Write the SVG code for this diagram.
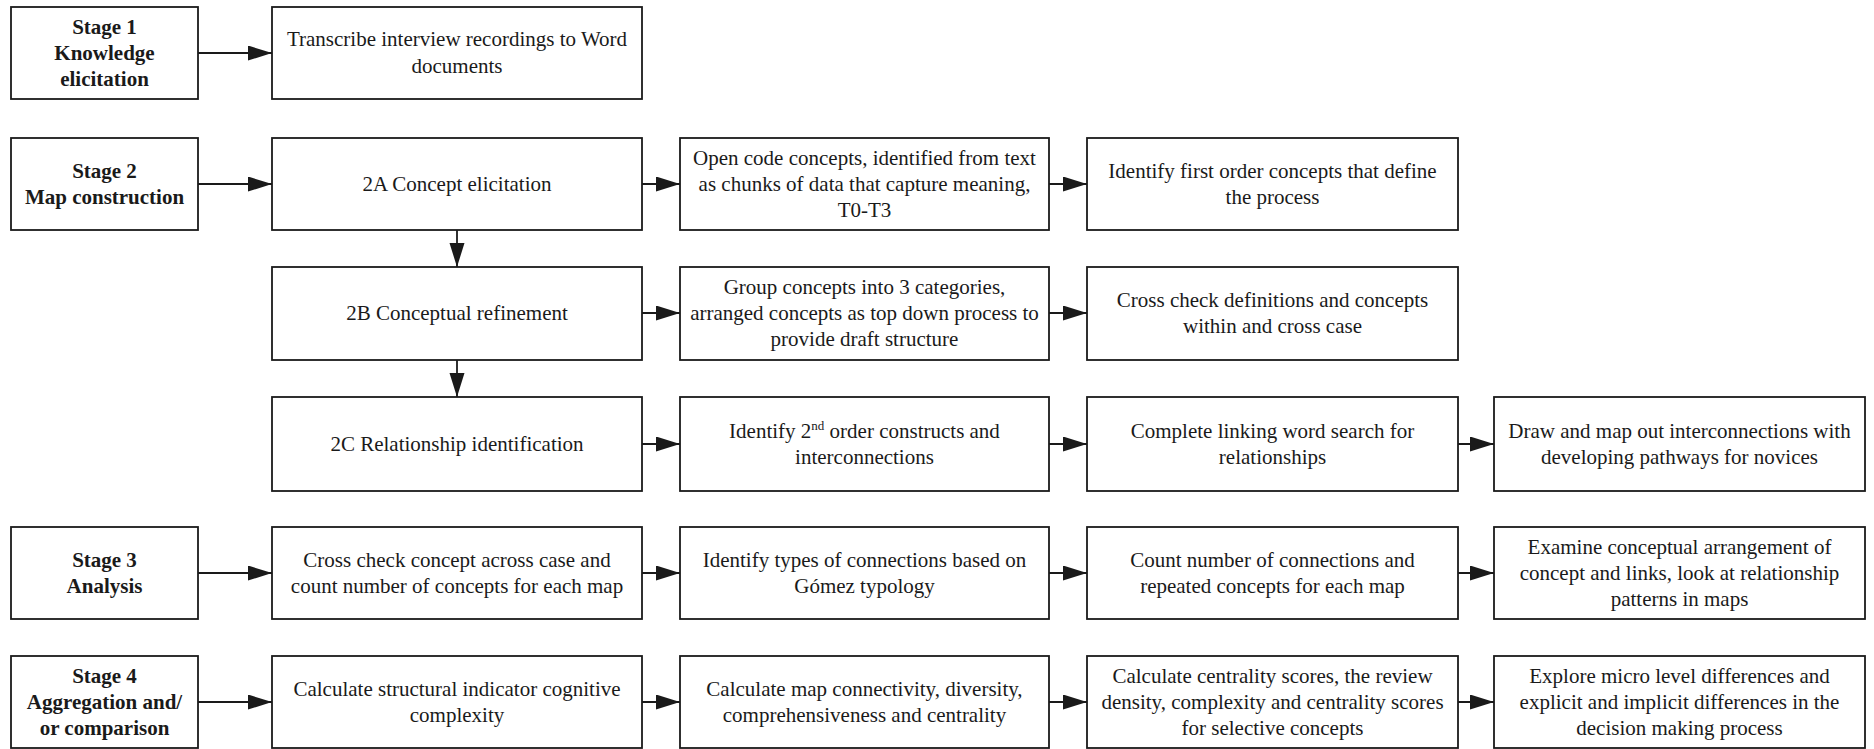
<svg xmlns="http://www.w3.org/2000/svg" width="1874" height="749" viewBox="0 0 1874 749" font-family="'Liberation Serif', 'DejaVu Serif', serif">
  <defs>
    <style>
      .box { fill: #ffffff; stroke: #1a1a1a; stroke-width: 1.8; }
      text { font-family: 'Liberation Serif', 'DejaVu Serif', serif; font-size: 21px; fill: #1a1a1a; text-anchor: middle; }
      .b { font-weight: bold; }
      .sup { font-size: 13px; }
      .link { stroke: #1a1a1a; stroke-width: 1.8; fill: none; marker-end: url(#head); }
    </style>
    <marker id="head" markerUnits="userSpaceOnUse" markerWidth="24" markerHeight="16" refX="24" refY="7.5" orient="auto">
      <path d="M0,0 L24,7.5 L0,15 z" fill="#1a1a1a"/>
    </marker>
  </defs>
  <rect width="1874" height="749" fill="#ffffff"/>

  <!-- Stage 1 -->
  <g id="stage1">
    <rect class="box" x="11" y="7" width="187" height="92"/>
    <text class="b" x="104.5" y="34">Stage 1</text>
    <text class="b" x="104.5" y="60">Knowledge</text>
    <text class="b" x="104.5" y="86">elicitation</text>
  </g>
  <g id="transcribe">
    <rect class="box" x="272" y="7" width="370" height="92"/>
    <text x="457" y="46">Transcribe interview recordings to Word</text>
    <text x="457" y="73">documents</text>
  </g>

  <!-- Stage 2 -->
  <g id="stage2">
    <rect class="box" x="11" y="138" width="187" height="92"/>
    <text class="b" x="104.5" y="178">Stage 2</text>
    <text class="b" x="104.5" y="204">Map construction</text>
  </g>
  <g id="concept-elicitation">
    <rect class="box" x="272" y="138" width="370" height="92"/>
    <text x="457" y="191">2A Concept elicitation</text>
  </g>
  <g id="open-code">
    <rect class="box" x="680" y="138" width="369" height="92"/>
    <text x="864.5" y="165">Open code concepts, identified from text</text>
    <text x="864.5" y="191">as chunks of data that capture meaning,</text>
    <text x="864.5" y="217">T0-T3</text>
  </g>
  <g id="first-order">
    <rect class="box" x="1087" y="138" width="371" height="92"/>
    <text x="1272.5" y="178">Identify first order concepts that define</text>
    <text x="1272.5" y="204">the process</text>
  </g>

  <g id="conceptual-refinement">
    <rect class="box" x="272" y="267" width="370" height="93"/>
    <text x="457" y="320">2B Conceptual refinement</text>
  </g>
  <g id="group-concepts">
    <rect class="box" x="680" y="267" width="369" height="93"/>
    <text x="864.5" y="294">Group concepts into 3 categories,</text>
    <text x="864.5" y="320">arranged concepts as top down process to</text>
    <text x="864.5" y="346">provide draft structure</text>
  </g>
  <g id="cross-check-definitions">
    <rect class="box" x="1087" y="267" width="371" height="93"/>
    <text x="1272.5" y="307">Cross check definitions and concepts</text>
    <text x="1272.5" y="333">within and cross case</text>
  </g>

  <g id="relationship-identification">
    <rect class="box" x="272" y="397" width="370" height="94"/>
    <text x="457" y="451">2C Relationship identification</text>
  </g>
  <g id="second-order">
    <rect class="box" x="680" y="397" width="369" height="94"/>
    <text x="864.5" y="438">Identify 2<tspan class="sup" dy="-8">nd</tspan><tspan dy="8"> order constructs and</tspan></text>
    <text x="864.5" y="464">interconnections</text>
  </g>
  <g id="linking-word">
    <rect class="box" x="1087" y="397" width="371" height="94"/>
    <text x="1272.5" y="438">Complete linking word search for</text>
    <text x="1272.5" y="464">relationships</text>
  </g>
  <g id="draw-map">
    <rect class="box" x="1494" y="397" width="371" height="94"/>
    <text x="1679.5" y="438">Draw and map out interconnections with</text>
    <text x="1679.5" y="464">developing pathways for novices</text>
  </g>

  <!-- Stage 3 -->
  <g id="stage3">
    <rect class="box" x="11" y="527" width="187" height="92"/>
    <text class="b" x="104.5" y="567">Stage 3</text>
    <text class="b" x="104.5" y="593">Analysis</text>
  </g>
  <g id="cross-check-concept">
    <rect class="box" x="272" y="527" width="370" height="92"/>
    <text x="457" y="567">Cross check concept across case and</text>
    <text x="457" y="593">count number of concepts for each map</text>
  </g>
  <g id="connection-types">
    <rect class="box" x="680" y="527" width="369" height="92"/>
    <text x="864.5" y="567">Identify types of connections based on</text>
    <text x="864.5" y="593">Gómez typology</text>
  </g>
  <g id="count-connections">
    <rect class="box" x="1087" y="527" width="371" height="92"/>
    <text x="1272.5" y="567">Count number of connections and</text>
    <text x="1272.5" y="593">repeated concepts for each map</text>
  </g>
  <g id="examine-arrangement">
    <rect class="box" x="1494" y="527" width="371" height="92"/>
    <text x="1679.5" y="554">Examine conceptual arrangement of</text>
    <text x="1679.5" y="580">concept and links, look at relationship</text>
    <text x="1679.5" y="606">patterns in maps</text>
  </g>

  <!-- Stage 4 -->
  <g id="stage4">
    <rect class="box" x="11" y="656" width="187" height="92"/>
    <text class="b" x="104.5" y="683">Stage 4</text>
    <text class="b" x="104.5" y="709">Aggregation and/</text>
    <text class="b" x="104.5" y="735">or comparison</text>
  </g>
  <g id="structural-indicator">
    <rect class="box" x="272" y="656" width="370" height="92"/>
    <text x="457" y="696">Calculate structural indicator cognitive</text>
    <text x="457" y="722">complexity</text>
  </g>
  <g id="map-connectivity">
    <rect class="box" x="680" y="656" width="369" height="92"/>
    <text x="864.5" y="696">Calculate map connectivity, diversity,</text>
    <text x="864.5" y="722">comprehensiveness and centrality</text>
  </g>
  <g id="centrality-scores">
    <rect class="box" x="1087" y="656" width="371" height="92"/>
    <text x="1272.5" y="683">Calculate centrality scores, the review</text>
    <text x="1272.5" y="709">density, complexity and centrality scores</text>
    <text x="1272.5" y="735">for selective concepts</text>
  </g>
  <g id="micro-differences">
    <rect class="box" x="1494" y="656" width="371" height="92"/>
    <text x="1679.5" y="683">Explore micro level differences and</text>
    <text x="1679.5" y="709">explicit and implicit differences in the</text>
    <text x="1679.5" y="735">decision making process</text>
  </g>

  <!-- Connectors -->
  <g id="connectors">
    <line class="link" x1="198" y1="53" x2="272" y2="53"/>

    <line class="link" x1="198" y1="184" x2="272" y2="184"/>
    <line class="link" x1="642" y1="184" x2="680" y2="184"/>
    <line class="link" x1="1049" y1="184" x2="1087" y2="184"/>

    <line class="link" x1="457" y1="230" x2="457" y2="267"/>
    <line class="link" x1="642" y1="313" x2="680" y2="313"/>
    <line class="link" x1="1049" y1="313" x2="1087" y2="313"/>

    <line class="link" x1="457" y1="360" x2="457" y2="397"/>
    <line class="link" x1="642" y1="444" x2="680" y2="444"/>
    <line class="link" x1="1049" y1="444" x2="1087" y2="444"/>
    <line class="link" x1="1458" y1="444" x2="1494" y2="444"/>

    <line class="link" x1="198" y1="573" x2="272" y2="573"/>
    <line class="link" x1="642" y1="573" x2="680" y2="573"/>
    <line class="link" x1="1049" y1="573" x2="1087" y2="573"/>
    <line class="link" x1="1458" y1="573" x2="1494" y2="573"/>

    <line class="link" x1="198" y1="702" x2="272" y2="702"/>
    <line class="link" x1="642" y1="702" x2="680" y2="702"/>
    <line class="link" x1="1049" y1="702" x2="1087" y2="702"/>
    <line class="link" x1="1458" y1="702" x2="1494" y2="702"/>
  </g>
</svg>
